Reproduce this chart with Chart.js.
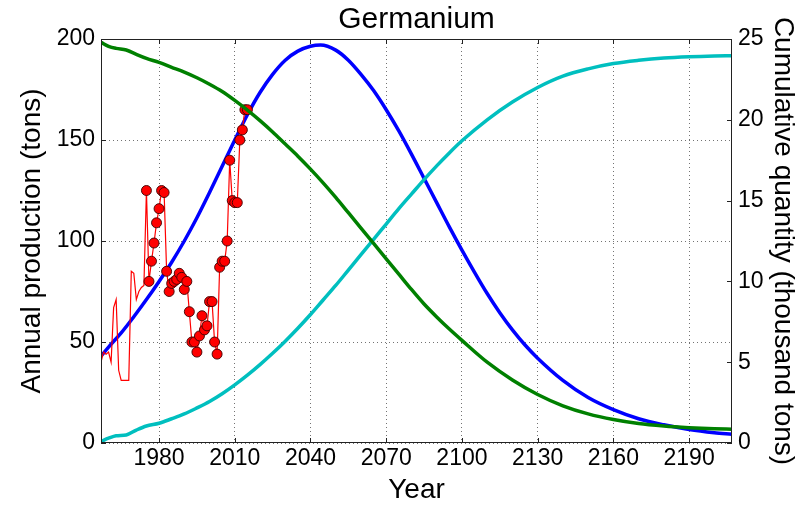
<!DOCTYPE html>
<html>
<head>
<meta charset="utf-8">
<script src="https://cdn.jsdelivr.net/npm/chart.js@4.4.1/dist/chart.umd.min.js"></script>
<style>
  body { margin: 0; background: #fff; }
  #wrap { width: 802px; height: 508px; }
</style>
</head>
<body>
<div id="wrap"><canvas id="chart" width="802" height="508"></canvas></div>
<script>
// actual annual production (tons), markers drawn from markerFrom on
const prodYears = [1957, 1958, 1959, 1960, 1961, 1962, 1963, 1964, 1965, 1966, 1967, 1968, 1969, 1970,
    1971, 1972, 1973, 1974, 1975, 1976, 1977, 1978, 1979, 1980, 1981, 1982, 1983, 1984, 1985, 1986,
    1987, 1988, 1989, 1990, 1991, 1992, 1993, 1994, 1995, 1996, 1997, 1998, 1999, 2000, 2001, 2002,
    2003, 2004, 2005, 2006, 2007, 2008, 2009, 2010, 2011, 2012, 2013, 2014, 2015];
const prodTons = [40, 45, 44, 45, 40, 67, 71, 36, 31, 31, 31, 31, 85, 84,
    71, 75, 77, 78, 125, 80, 90, 99, 109, 116, 125, 124, 85, 75, 79, 80,
    81, 84, 82, 76, 80, 65, 50, 50, 45, 53, 63, 56, 58, 70, 70, 50,
    44, 87, 90, 90, 100, 140, 120, 119, 119, 150, 155, 165, 165];
const markerFrom = 1975;

// fitted production curve (tons per year)
const modelYears = [1957, 1960, 1965, 1970, 1975, 1980, 1985, 1990, 1995, 2000, 2005, 2010, 2015, 2020,
    2025, 2030, 2035, 2040, 2044, 2050, 2055, 2060, 2065, 2070, 2075, 2080, 2085, 2090, 2095, 2100,
    2105, 2110, 2115, 2120, 2125, 2130, 2140, 2150, 2160, 2170, 2180, 2190, 2200, 2207];
const modelTons = [43, 47.5, 54.5, 62.5, 71, 80, 89.5, 100, 111.5, 124, 137, 150, 162.5, 173.5,
    182.5, 189.5, 194, 196.4, 197, 194.5, 189.5, 182.5, 174.5, 165, 154.5, 143, 131, 119, 107, 95.5,
    84.5, 74, 64.5, 56, 48.5, 42, 31, 22.5, 16.5, 12, 9, 6.7, 5.1, 4.3];

// cumulative and remaining quantity (thousand tons)
const cumYears = [1957, 1960, 1963, 1967, 1971, 1975, 1980, 1985, 1990, 1995, 2000, 2005, 2010, 2015,
    2020, 2025, 2030, 2035, 2040, 2045, 2050, 2055, 2060, 2065, 2070, 2075, 2080, 2085, 2090, 2095,
    2100, 2110, 2120, 2130, 2140, 2150, 2160, 2170, 2180, 2190, 2200, 2207];
const cumulativeKt = [0.1, 0.3, 0.45, 0.5, 0.8, 1.05, 1.22, 1.5, 1.8, 2.17, 2.57, 3.05, 3.6, 4.2,
    4.85, 5.55, 6.3, 7.1, 7.95, 8.85, 9.75, 10.7, 11.65, 12.6, 13.55, 14.5, 15.4, 16.3, 17.15, 17.95,
    18.7, 20.0, 21.1, 22.0, 22.7, 23.15, 23.48, 23.68, 23.82, 23.9, 23.95, 23.97];
const remainingKt = [24.8, 24.55, 24.42, 24.32, 24.05, 23.8, 23.55, 23.25, 22.95, 22.6, 22.2, 21.75, 21.2, 20.6,
    19.95, 19.25, 18.5, 17.75, 16.95, 16.1, 15.2, 14.25, 13.3, 12.35, 11.4, 10.45, 9.5, 8.6, 7.8, 7.05,
    6.35, 5.0, 3.9, 3.0, 2.3, 1.8, 1.45, 1.2, 1.05, 0.95, 0.88, 0.85];

const xTicks = [1980, 2010, 2040, 2070, 2100, 2130, 2160, 2190];
const chartTitle = 'Germanium';

const pts = (xs, ys) => xs.map((x, i) => ({ x: x, y: ys[i] }));

// title centred over the plot area, inward tick marks and frame (matplotlib classic look)
const framePlugin = {
    id: 'frame',
    afterDraw(chart) {
        const { ctx, chartArea: a, scales } = chart;
        const t = 5;
        ctx.save();
        ctx.strokeStyle = '#222';
        ctx.lineWidth = 1;
        ctx.beginPath();
        scales.x.ticks.forEach(tk => {
            const px = Math.round(scales.x.getPixelForValue(tk.value)) + 0.5;
            ctx.moveTo(px, a.bottom); ctx.lineTo(px, a.bottom - t);
            ctx.moveTo(px, a.top); ctx.lineTo(px, a.top + t);
        });
        scales.y.ticks.forEach(tk => {
            const py = Math.round(scales.y.getPixelForValue(tk.value)) + 0.5;
            ctx.moveTo(a.left, py); ctx.lineTo(a.left + t, py);
        });
        scales.y1.ticks.forEach(tk => {
            const py = Math.round(scales.y1.getPixelForValue(tk.value)) + 0.5;
            ctx.moveTo(a.right, py); ctx.lineTo(a.right - t, py);
        });
        ctx.stroke();
        ctx.strokeRect(Math.round(a.left) + 0.5, Math.round(a.top) + 0.5,
            Math.round(a.width) - 1, Math.round(a.height) - 1);

        ctx.fillStyle = '#000';
        ctx.font = '30px "Liberation Sans", Arial, sans-serif';
        ctx.textAlign = 'center';
        ctx.textBaseline = 'middle';
        ctx.fillText(chartTitle, (a.left + a.right) / 2, 20);
        ctx.restore();
    }
};

Chart.defaults.color = '#000';
Chart.defaults.font.family = '"Liberation Sans", Arial, sans-serif';

const gridDots = { color: 'rgba(0,0,0,0.55)', lineWidth: 1, drawTicks: false };
const noBorder = { display: false, dash: [1, 3] };

const ctx = document.getElementById('chart').getContext('2d');
new Chart(ctx, {
    type: 'line',
    data: {
        datasets: [
            {
                label: 'Remaining',
                data: pts(cumYears, remainingKt),
                yAxisID: 'y1',
                borderColor: '#008000',
                borderWidth: 3.5,
                pointRadius: 0,
                cubicInterpolationMode: 'monotone'
            },
            {
                label: 'Cumulative',
                data: pts(cumYears, cumulativeKt),
                yAxisID: 'y1',
                borderColor: '#00bfbf',
                borderWidth: 3.5,
                pointRadius: 0,
                cubicInterpolationMode: 'monotone'
            },
            {
                label: 'Production',
                data: pts(prodYears, prodTons),
                yAxisID: 'y',
                borderColor: '#ff0000',
                borderWidth: 1.2,
                pointRadius: c => (c.raw && c.raw.x >= markerFrom) ? 5 : 0,
                pointBackgroundColor: '#ff0000',
                pointBorderColor: 'rgba(60,0,0,0.9)',
                pointBorderWidth: 1,
                tension: 0
            },
            {
                label: 'Model',
                data: pts(modelYears, modelTons),
                yAxisID: 'y',
                borderColor: '#0000ff',
                borderWidth: 3.5,
                pointRadius: 0,
                cubicInterpolationMode: 'monotone'
            }
        ]
    },
    options: {
        responsive: false,
        animation: false,
        devicePixelRatio: 1,
        layout: { padding: { top: 39, left: 0, right: 0, bottom: 0 } },
        plugins: {
            legend: { display: false },
            tooltip: { enabled: false },
            title: { display: false }
        },
        scales: {
            x: {
                type: 'linear',
                min: 1957,
                max: 2207,
                afterBuildTicks: s => { s.ticks = xTicks.map(v => ({ value: v })); },
                afterFit: s => { s.height = 65; },
                ticks: { font: { size: 23 }, padding: 2, maxRotation: 0, callback: v => String(v) },
                grid: gridDots,
                border: noBorder,
                title: { display: true, text: 'Year', font: { size: 28, lineHeight: 1 }, padding: { bottom: 4 } }
            },
            y: {
                position: 'left',
                min: 0,
                max: 200,
                ticks: { stepSize: 50, font: { size: 23 }, padding: 6 },
                afterFit: s => { s.width = 101; },
                grid: gridDots,
                border: noBorder,
                title: { display: true, text: 'Annual production (tons)', font: { size: 28, lineHeight: 1 }, padding: { top: 18 } }
            },
            y1: {
                position: 'right',
                min: 0,
                max: 25,
                ticks: { stepSize: 5, font: { size: 23 }, padding: 6 },
                afterFit: s => { s.width = 70; },
                grid: { display: false, drawTicks: false },
                border: { display: false },
                title: { display: true, text: 'Cumulative quantity (thousand tons)', font: { size: 28, lineHeight: 1 }, padding: { top: 5 } }
            }
        }
    },
    plugins: [framePlugin]
});
</script>
</body>
</html>
